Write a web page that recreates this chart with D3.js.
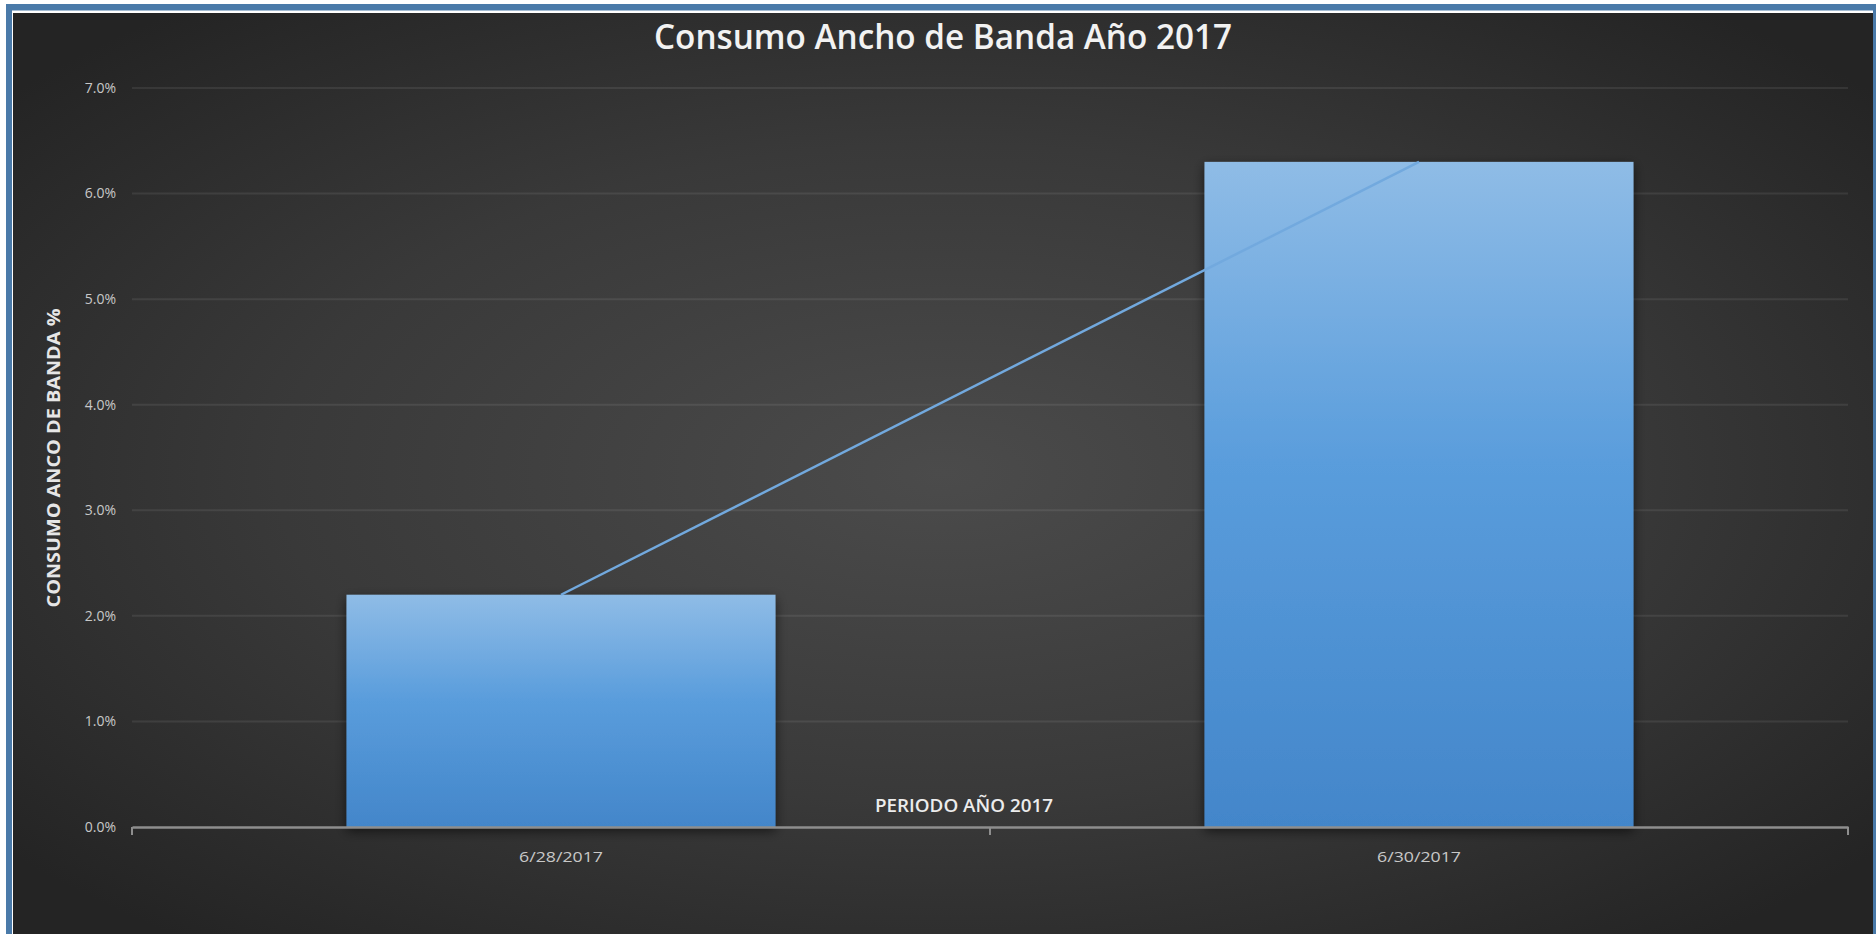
<!DOCTYPE html>
<html>
<head>
<meta charset="utf-8">
<script src="https://cdn.jsdelivr.net/npm/d3@7"></script>
<style>
  html, body { margin: 0; padding: 0; background: #ffffff; }
  svg { display: block; }
</style>
</head>
<body>
<div id="chart-area"></div>
<script>
// Data
const categories = ["6/28/2017", "6/30/2017"]
const consumo = [0.022, 0.063]
const yTicks = [0, 0.01, 0.02, 0.03, 0.04, 0.05, 0.06, 0.07]

const W = 1876, H = 934
const PLOT = { LEFT: 132, RIGHT: 1848, TOP: 88, BOTTOM: 827 }
const FONT = "'Liberation Sans Narrow', 'Open Sans', sans-serif"

const svg = d3.select("#chart-area").append("svg")
    .attr("width", W)
    .attr("height", H)

const defs = svg.append("defs")

const bg = defs.append("radialGradient")
    .attr("id", "bg")
    .attr("cx", "50%").attr("cy", "50%").attr("r", "65%")
bg.append("stop").attr("offset", "0%").attr("stop-color", "#4b4b4b")
bg.append("stop").attr("offset", "55%").attr("stop-color", "#393939")
bg.append("stop").attr("offset", "100%").attr("stop-color", "#242424")

const barGrad = defs.append("linearGradient")
    .attr("id", "barGrad")
    .attr("x1", 0).attr("y1", 0).attr("x2", 0).attr("y2", 1)
barGrad.append("stop").attr("offset", "0%").attr("stop-color", "#8fbce6")
barGrad.append("stop").attr("offset", "45%").attr("stop-color", "#5a9ddc")
barGrad.append("stop").attr("offset", "100%").attr("stop-color", "#4386ca")

const shadow = defs.append("filter")
    .attr("id", "shadow")
    .attr("x", "-10%").attr("y", "-10%").attr("width", "120%").attr("height", "125%")
shadow.append("feDropShadow")
    .attr("dx", 0).attr("dy", 4)
    .attr("stdDeviation", 6)
    .attr("flood-color", "#000")
    .attr("flood-opacity", 0.6)

// Frame
svg.append("rect")
    .attr("x", 6).attr("y", 4)
    .attr("width", W - 6).attr("height", H - 4)
    .attr("fill", "#4a7aa9")
svg.append("rect")
    .attr("x", 12).attr("y", 10.5)
    .attr("width", W - 15).attr("height", H - 10.5)
    .attr("fill", "#ffffff")
svg.append("rect")
    .attr("x", 13).attr("y", 13)
    .attr("width", W - 16).attr("height", H - 13)
    .attr("fill", "url(#bg)")

// Scales
const x = d3.scaleBand()
    .domain(categories)
    .range([PLOT.LEFT, PLOT.RIGHT])
    .paddingInner(0.5)
    .paddingOuter(0.25)

const xBand = d3.scaleBand()
    .domain(categories)
    .range([PLOT.LEFT, PLOT.RIGHT])

const y = d3.scaleLinear()
    .domain([0, 0.07])
    .range([PLOT.BOTTOM, PLOT.TOP])

// Gridlines
svg.append("g")
    .selectAll("line")
    .data(yTicks.slice(1))
    .enter().append("line")
    .attr("x1", PLOT.LEFT)
    .attr("x2", PLOT.RIGHT)
    .attr("y1", d => y(d))
    .attr("y2", d => y(d))
    .attr("stroke", "#ffffff")
    .attr("stroke-opacity", 0.08)
    .attr("stroke-width", 2)

// Y tick labels
svg.append("g")
    .selectAll("text")
    .data(yTicks)
    .enter().append("text")
    .attr("x", 116)
    .attr("y", d => y(d))
    .attr("dy", "0.35em")
    .attr("text-anchor", "end")
    .attr("font-family", FONT)
    .attr("font-size", "14px")
    .attr("fill", "#c8c8c8")
    .text(d => d3.format(".1%")(d))

// Bars
svg.append("g")
    .selectAll("rect")
    .data(consumo)
    .enter().append("rect")
    .attr("x", (d, i) => x(categories[i]))
    .attr("y", d => y(d))
    .attr("width", x.bandwidth())
    .attr("height", d => y(0) - y(d))
    .attr("fill", "url(#barGrad)")
    .attr("filter", "url(#shadow)")

// Line series
const line = d3.line()
    .x((d, i) => xBand(categories[i]) + xBand.bandwidth() / 2)
    .y(d => y(d))

svg.append("path")
    .datum(consumo)
    .attr("d", line)
    .attr("fill", "none")
    .attr("stroke", "#72a9de")
    .attr("stroke-width", 2.5)

// X axis
const xAxisCall = d3.axisBottom(xBand)
    .tickSize(0)
    .tickFormat("")
const xAxis = svg.append("g")
    .attr("transform", `translate(0, ${PLOT.BOTTOM})`)
    .call(xAxisCall)
xAxis.select(".domain")
    .attr("stroke", "#8e8e8e")
    .attr("stroke-width", 2.5)

// tick marks between categories
const boundaries = [PLOT.LEFT, ...categories.map(c => xBand(c) + xBand.bandwidth())]
xAxis.append("g")
    .selectAll("line")
    .data(boundaries)
    .enter().append("line")
    .attr("x1", d => d).attr("x2", d => d)
    .attr("y1", 0).attr("y2", 8)
    .attr("stroke", "#8e8e8e")
    .attr("stroke-width", 2)

// X tick labels
svg.append("g")
    .selectAll("text")
    .data(categories)
    .enter().append("text")
    .attr("x", d => xBand(d) + xBand.bandwidth() / 2)
    .attr("y", 862)
    .attr("text-anchor", "middle")
    .attr("font-family", FONT)
    .attr("font-size", "15px")
    .attr("fill", "#c8c8c8")
    .attr("textLength", 84)
    .attr("lengthAdjust", "spacingAndGlyphs")
    .text(d => d)

// Labels
svg.append("text")
    .attr("x", 943)
    .attr("y", 49)
    .attr("text-anchor", "middle")
    .attr("font-family", FONT)
    .attr("font-size", "34px")
    .attr("font-weight", 600)
    .attr("fill", "#f2f2f2")
    .attr("textLength", 578)
    .attr("lengthAdjust", "spacingAndGlyphs")
    .text("Consumo Ancho de Banda Año 2017")

svg.append("text")
    .attr("x", 964)
    .attr("y", 812)
    .attr("text-anchor", "middle")
    .attr("font-family", FONT)
    .attr("font-size", "18px")
    .attr("font-weight", 600)
    .attr("fill", "#ececec")
    .attr("textLength", 178)
    .attr("lengthAdjust", "spacingAndGlyphs")
    .text("PERIODO AÑO 2017")

svg.append("text")
    .attr("transform", "translate(60, 458) rotate(-90)")
    .attr("text-anchor", "middle")
    .attr("font-family", FONT)
    .attr("font-size", "18px")
    .attr("font-weight", "bold")
    .attr("fill", "#e6e6e6")
    .attr("textLength", 299)
    .attr("lengthAdjust", "spacingAndGlyphs")
    .text("CONSUMO ANCO DE BANDA %")
</script>
</body>
</html>
